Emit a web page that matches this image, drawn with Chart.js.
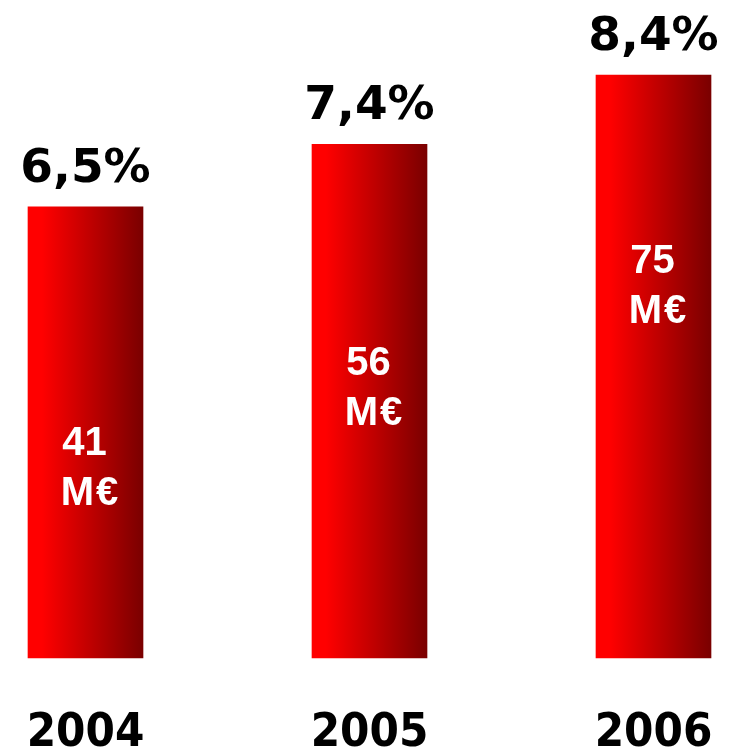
<!DOCTYPE html>
<html>
<head>
<meta charset="utf-8">
<title>Marge 2004-2006</title>
<script src="https://cdn.jsdelivr.net/npm/chart.js@4"></script>
<style>
    html, body { margin: 0; padding: 0; background: #ffffff; }
    #wrap { width: 729px; height: 750px; position: relative; }
</style>
</head>
<body>
<div id="wrap"><canvas id="marginChart"></canvas></div>
<script>
// data
const years = ['2004', '2005', '2006'];
const marginPct = [6.5, 7.4, 8.4];
const amounts = [41, 56, 75];
const amountUnit = 'M€';

// styling / layout
const barWidth = 115;
const amountBlockOffset = [262, 245, 212]; // centre of "xx M€" block, px below the bar top
const amountLineGap = 50;

function pctText(v) {
    return v.toFixed(1).replace('.', ',') + '%';
}

// horizontal red -> dark red fill, one gradient per bar
function barGradient(context) {
    const chart = context.chart;
    const xScale = chart.scales.x;
    if (context.type !== 'data' || !xScale) return '#ff0000';
    const cx = xScale.getPixelForValue(context.dataIndex);
    if (!isFinite(cx)) return '#ff0000';
    const g = chart.ctx.createLinearGradient(cx - barWidth / 2, 0, cx + barWidth / 2, 0);
    g.addColorStop(0, '#ff0000');
    g.addColorStop(0.12, '#ff0000');
    g.addColorStop(1, '#7a0000');
    return g;
}

// draws the % above, the amount inside and the year below each bar
const barLabels = {
    id: 'barLabels',
    afterDatasetsDraw(chart) {
        const ctx = chart.ctx;
        const meta = chart.getDatasetMeta(0);
        ctx.save();
        ctx.textAlign = 'center';
        meta.data.forEach((bar, i) => {
            ctx.fillStyle = '#000000';
            ctx.textBaseline = 'alphabetic';
            ctx.font = 'bold 47px "DejaVu Sans"';
            ctx.fillText(pctText(marginPct[i]), bar.x, bar.y - 25);

            ctx.font = 'bold 47px "DejaVu Sans Condensed", "DejaVu Sans"';
            ctx.fillText(chart.data.labels[i], bar.x, 746);

            ctx.fillStyle = '#ffffff';
            ctx.textBaseline = 'middle';
            ctx.font = 'bold 40px "Liberation Sans", Arial';
            const mid = bar.y + amountBlockOffset[i];
            ctx.fillText(String(amounts[i]), bar.x - 1, mid - amountLineGap / 2);
            ctx.letterSpacing = '2px';
            ctx.fillText(amountUnit, bar.x + 5, mid + amountLineGap / 2);
            ctx.letterSpacing = '0px';
        });
        ctx.restore();
    }
};

document.addEventListener('DOMContentLoaded', () => {
    new Chart(document.getElementById('marginChart').getContext('2d'), {
        type: 'bar',
        data: {
            labels: years,
            datasets: [{
                data: marginPct,
                backgroundColor: barGradient,
                borderWidth: 0,
                barThickness: barWidth,
                clip: false
            }]
        },
        options: {
            responsive: true,
            maintainAspectRatio: false,
            animation: false,
            layout: { padding: { left: 85.5, right: 75.5, top: 33.4, bottom: 92 } },
            plugins: { legend: { display: false }, tooltip: { enabled: false } },
            scales: {
                x: { display: false, offset: false },
                y: { display: false, min: 0, max: 9 }
            }
        },
        plugins: [barLabels]
    });
});
</script>
</body>
</html>
